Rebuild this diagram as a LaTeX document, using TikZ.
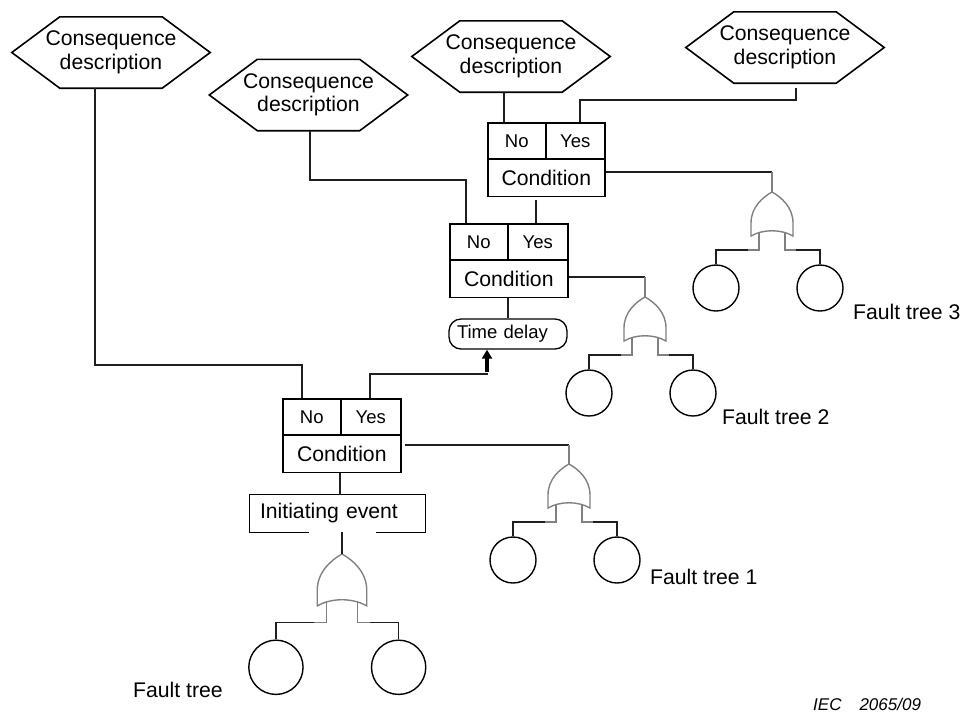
\documentclass[tikz,border=0pt]{standalone}
\usepackage{fontspec}
\setmainfont{Liberation Sans}
\usetikzlibrary{arrows.meta}
\newcommand\bigfs{\fontsize{21.2}{23.5}\selectfont}
\newcommand\smallfs{\fontsize{18.5}{20}\selectfont}
\newcommand\hexdraw[1]{\draw[hexline] (#1.west) -- ([xshift=48pt]#1.north west) -- ([xshift=-48pt]#1.north east) -- (#1.east) -- ([xshift=-48pt]#1.south east) -- ([xshift=48pt]#1.south west) -- cycle;}
\begin{document}
\begin{tikzpicture}[x=1pt,y=-1pt,
  conn/.style={line width=1.3pt, black!88},
  hexline/.style={line width=1.6pt, black},
  gatecol/.style={line width=1.4pt, black!50},
  hexa/.style={minimum width=198pt, minimum height=71pt, inner sep=0pt, align=center, font=\bigfs},
  cell/.style={draw, line width=1.6pt, inner sep=0pt, minimum height=36pt, anchor=north west, font=\smallfs},
  condbox/.style={draw, line width=1.6pt, inner sep=0pt, minimum width=118pt, minimum height=37.5pt, anchor=north west, font=\bigfs},
  tdbox/.style={draw, line width=1.3pt, rounded corners=12pt, minimum height=30pt, text width=102pt, inner xsep=8pt, inner ysep=0pt, align=left, font=\smallfs},
  initbox/.style={minimum height=37pt, text width=155pt, inner xsep=10pt, inner ysep=0pt, align=left, font=\bigfs},
  leaf/.style={circle, draw, line width=1.4pt, minimum size=46pt, inner sep=0pt, transform shape},
  lbl/.style={inner sep=0pt, anchor=west, font=\bigfs},
  faulttree/.pic={
    \coordinate (-in) at (0,0);
    \draw[gatecol] (0,0) .. controls (9,5) and (21,15) .. (21,31) -- (21,44)
       .. controls (9,37) and (-9,37) .. (-21,44) -- (-21,31)
       .. controls (-21,15) and (-9,5) .. (0,0) -- cycle;
    \node[leaf] (-l) at (-56,96) {};
    \node[leaf] (-r) at (48,96) {};
    \draw[gatecol] (-13,39.5) -- (-13,58) -- (-24,58);
    \draw[gatecol] (13,39.5) -- (13,58) -- (24,58);
    \draw[conn] (-24,58) -| (-l.north);
    \draw[conn] (24,58) -| (-r.north);
  }
]
\useasboundingbox (0,0) rectangle (963,713);

% consequence hexagons
\node[hexa] (h1) at (111,52.5) {Consequence\\description};
\node[hexa] (h2) at (308.5,95) {Consequence\\description};
\node[hexa] (h3) at (511,56.5) {Consequence\\description};
\node[hexa] (h4) at (785,47.5) {Consequence\\description};
\hexdraw{h1}
\hexdraw{h2}
\hexdraw{h3}
\hexdraw{h4}

% condition boxes
\node[cell, minimum width=58pt] (n3) at (487,122) {No};
\node[cell, minimum width=59pt] (y3) at (545,122) {Yes};
\node[condbox, minimum width=117pt] (c3) at (487,158) {Condition};

\node[cell, minimum width=58pt] (n2) at (449,223) {No};
\node[cell, minimum width=60pt] (y2) at (507,223) {Yes};
\node[condbox] (c2) at (449,259) {Condition};

\node[cell, minimum width=58pt] (n1) at (282,398) {No};
\node[cell, minimum width=60pt] (y1) at (340,398) {Yes};
\node[condbox] (c1) at (282,434) {Condition};

% time delay and initiating event
\node[tdbox] (td) at (508,334) {Time delay};
\node[initbox] (init) at (337.5,513.5) {Initiating event};
\draw[line width=1.2pt] (init.south west -| 309,0) -- (init.south west) -- (init.north west) -- (init.north east) -- (init.south east) -- (init.south east -| 376,0);

% fault trees
\pic (ft3) at (772,192) {faulttree};
\pic (ft2) at (645,297) {faulttree};
\pic (ft1) at (569,464) {faulttree};
\pic[scale=1.18] (ft0) at (342,554) {faulttree};

% labels
\node[lbl] (l3) at (853,312) {Fault tree 3};
\node[lbl] (l2) at (722,417) {Fault tree 2};
\node[lbl] (l1) at (650,577) {Fault tree 1};
\node[lbl] (l0) at (133,690) {Fault tree};
\node[anchor=base west, inner sep=0pt, font=\fontsize{17}{20}\selectfont\itshape] (iec) at (813,710) {IEC\hspace{18pt}2065/09};

% connectors
\draw[conn] (h1.south -| 95,0) -- (95,365) -| (n1.north -| 302,0);
\draw[conn] (h2.south -| 310,0) -- (310,180) -| (n2.north -| 466,0);
\draw[conn] (h3.south -| 504,0) -- (n3.north -| 504,0);
\draw[conn, shorten <=5pt] (h4.south -| 796,0) -- (796,100) -| (y3.north -| 580,0);
\draw[conn, shorten <=3pt] (c3.south -| 536,0) -- (y2.north -| 536,0);
\draw[conn] (c3.east |- 0,172) -- (ft3-in |- 0,172);
\draw[gatecol] (ft3-in |- 0,172) -- (ft3-in);
\draw[conn] (c2.south -| 508,0) -- (td.north -| 508,0);
\draw[conn] (c2.east |- 0,277) -- (ft2-in |- 0,277);
\draw[gatecol] (ft2-in |- 0,277) -- (ft2-in);
\draw[conn] (y1.north -| 370,0) -- (370,374) -- (488,374);
\draw[-{Triangle[width=10pt,length=9pt]}, line width=3.2pt] (487,372) -- (td.south -| 487,0);
\draw[conn, shorten <=3pt] (c1.east |- 0,445) -- (ft1-in |- 0,445);
\draw[gatecol] (ft1-in |- 0,445) -- (ft1-in);
\draw[conn] (c1.south -| 340,0) -- (init.north -| 340,0);
\draw[conn] (init.south -| 342,0) -- (ft0-in);
\end{tikzpicture}
\end{document}
